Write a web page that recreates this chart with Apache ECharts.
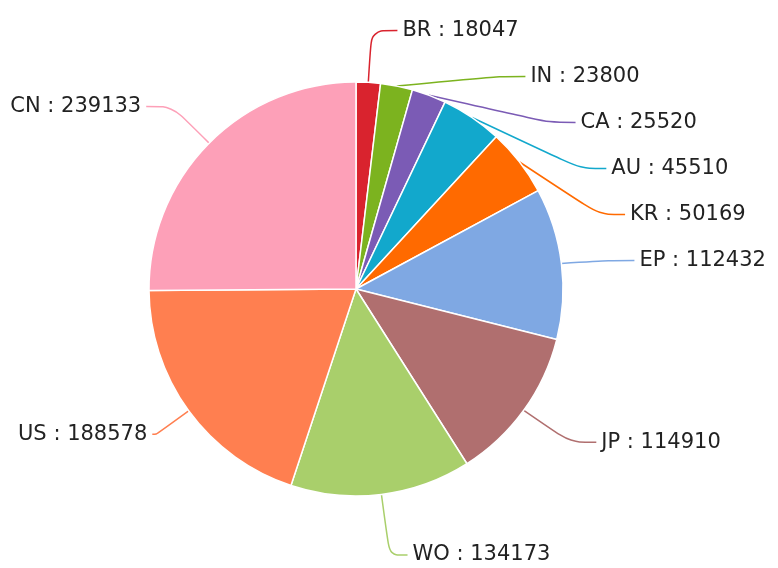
<!DOCTYPE html>
<html lang="en">
<head>
	<meta charset="UTF-8">
	<title>Pie</title>
	<script src="https://cdn.jsdelivr.net/npm/echarts@6/dist/echarts.min.js"></script>
	<style>
		html, body { margin: 0; padding: 0; background: #fff; }
		#main { width: 778px; height: 568px; }
	</style>
</head>
<body>
	<div id="main"></div>
	<script>
		// 数据
		var names = ['BR', 'IN', 'CA', 'AU', 'KR', 'EP', 'JP', 'WO', 'US', 'CN'];
		var values = [18047, 23800, 25520, 45510, 50169, 112432, 114910, 134173, 188578, 239133];
		var colors = ['#d9232e', '#7cb31f', '#7b5bb5', '#12a8cc', '#ff6a00', '#7fa8e3', '#b06f6f', '#a9cf6b', '#ff7f50', '#fda0b8'];

		// 个别引导线长度
		var lineOverride = {
			US: { length: 40, length2: 4 },
			WO: { length: 66, length2: 18 },
			JP: { length: 60, length2: 26 }
		};

		var pieData = [];
		for (var i = 0; i < names.length; i++) {
			var item = { name: names[i], value: values[i], itemStyle: { color: colors[i] } };
			if (lineOverride[names[i]]) {
				item.labelLine = lineOverride[names[i]];
			}
			if (names[i] === 'WO') {
				item.label = { lineHeight: 24 };
			}
			pieData.push(item);
		}

		var myChart = echarts.init(document.getElementById('main'));
		myChart.setOption({
			animation: false,
			series: [{
				type: 'pie',
				center: [356, 289],
				radius: 207,
				startAngle: 90,
				clockwise: true,
				avoidLabelOverlap: true,
				itemStyle: {
					borderColor: '#fff',
					borderWidth: 1.5
				},
				label: {
					formatter: '{b} : {c}',
					fontFamily: 'DejaVu Sans',
					fontSize: 21,
					color: '#222',
					lineHeight: 44,
					overflow: 'none'
				},
				labelLine: {
					length: 52,
					length2: 26,
					smooth: 0.3,
					lineStyle: { width: 1.5 }
				},
				data: pieData
			}]
		});
	</script>
</body>
</html>
